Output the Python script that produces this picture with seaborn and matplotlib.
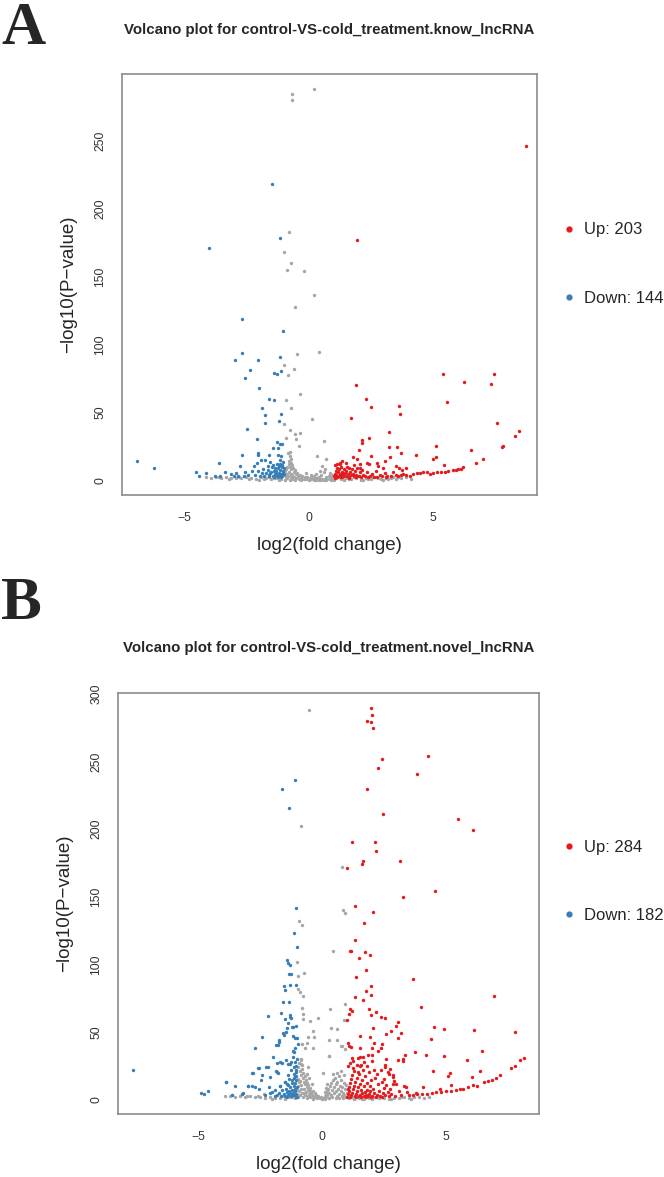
import pandas as pd
import numpy as np
import matplotlib
matplotlib.use("Agg")
import matplotlib.pyplot as plt
from matplotlib.lines import Line2D
import seaborn as sns

# ── Colours (RColorBrewer Set1 + grey, as in the R volcano) ─────────────────
RED = "#E41A1C"
BLUE = "#377EB8"
GREY = "#A6A6A6"

# ── Panel A : known lncRNA ───────────────────────────────────────────────────
a_title = "Volcano plot for control-VS-cold_treatment.know_lncRNA"
a_legend = ["Up: 203", "Down: 144"]

a_up = [
    (8.72, 246), (1.94, 176.5), (5.39, 78.5), (7.45, 77.9), (6.24, 72.5), (7.30, 70.6),
    (1.90, 70), (2.32, 60), (2.50, 53.6), (3.62, 54.6), (3.66, 49), (5.55, 57.3),
    (1.71, 45.8), (7.55, 41.9), (8.45, 36.5), (8.26, 32.6), (3.23, 35.5), (2.43, 30.9),
    (2.14, 29.4), (2.15, 27.2), (2.0, 22.3), (3.22, 24.5), (3.55, 24.2), (5.11, 25.5),
    (7.81, 25.2), (7.77, 24.5), (6.52, 22.3), (3.70, 19.8), (4.30, 18.4), (2.51, 17.6),
    (1.76, 16.9), (1.92, 15.9), (3.27, 16.9), (5.11, 17.4), (4.97, 15.7), (7.0, 15.7),
    (6.70, 13), (5.41, 11.3), (3.07, 14.2), (1.35, 14.2),
    (4.2, 4.9), (4.35, 5.2), (4.46, 5.6), (4.6, 5.9), (4.73, 6.2), (4.85, 5.0), (5.0, 5.4),
    (5.15, 5.8), (5.3, 6.2), (5.45, 5.9), (5.6, 6.8), (5.8, 7.3), (5.9, 7.7), (6.0, 8.1),
    (6.1, 8.6), (6.2, 9.5), (3.9, 4.2), (3.7, 3.8), (3.5, 3.6), (3.3, 3.3),
    (1.26, 11.7), (1.63, 9.3), (1.83, 11.2), (2.06, 12), (2.33, 13), (2.43, 12),
    (2.73, 13), (2.79, 10.7), (2.97, 8.8), (3.50, 10.7), (3.61, 8.8), (3.73, 7.6),
    (3.90, 8.8), (2.06, 8.8),
    (1.02, 3), (1.05, 5), (1.08, 7), (1.1, 4), (1.12, 9), (1.15, 2.5), (1.18, 6), (1.2, 3.5),
    (1.22, 8), (1.25, 5), (1.28, 4), (1.3, 10), (1.32, 2.8), (1.35, 6.5), (1.38, 4.5),
    (1.4, 8.5), (1.42, 3), (1.45, 5.5), (1.5, 7), (1.52, 3.5), (1.55, 9.5), (1.58, 4.8),
    (1.62, 2.6), (1.65, 6), (1.7, 3.8), (1.72, 8), (1.78, 5), (1.82, 3), (1.85, 7),
    (1.9, 4.2), (1.95, 9), (2.0, 3.2), (2.05, 5.8), (2.1, 2.8), (2.15, 7.5), (2.2, 4),
    (2.28, 3), (2.35, 6), (2.45, 3.5), (2.55, 5), (2.62, 2.8), (2.7, 7), (2.85, 4),
    (2.95, 3), (3.05, 5.5), (3.15, 2.9), (3.4, 6), (3.6, 3), (3.8, 5), (4.05, 3.5),
    (1.06, 11), (1.14, 12), (1.26, 13), (1.48, 12.5), (1.04, 2), (1.3, 2.2), (1.6, 2.1),
    (1.88, 2.4), (2.4, 2.2), (2.75, 2.5), (3.1, 2.3),
]

a_down = [
    (-1.46, 218), (-1.16, 178.2), (-4.01, 170.6), (-2.66, 118.4), (-1.03, 109.8),
    (-2.69, 93.4), (-2.97, 88.2), (-2.05, 88.5), (-1.16, 90.7), (-2.37, 81.1), (-2.54, 75),
    (-1.40, 78.7), (-1.28, 78), (-1.11, 80.1), (-1.98, 67.6), (-1.59, 60), (-1.39, 59.3),
    (-1.89, 52.9), (-1.77, 48.3), (-1.10, 48.8), (-1.19, 43.9), (-1.75, 42.2), (-2.46, 37.5),
    (-2.09, 30.6), (-1.27, 28.1), (-1.14, 26.6), (-1.08, 26.8), (-1.42, 23.5), (-1.22, 23.5),
    (-2.02, 19.8), (-2.02, 18.4), (-1.59, 18.4), (-1.22, 18.4), (-1.09, 17.6), (-2.66, 18.4),
    (-1.91, 14.7), (-1.75, 14.9), (-1.55, 13.7), (-3.61, 12.7), (-2.74, 10.5), (-2.21, 10.3),
    (-2.09, 13), (-1.65, 10.5), (-1.14, 14.9), (-6.87, 14), (-6.19, 9.3), (-4.52, 6.1),
    (-4.10, 5.6), (-4.38, 3.1), (-3.76, 3.4), (-3.55, 3.4), (-3.34, 5.9), (-3.11, 4.6),
    (-2.91, 5.6), (-2.82, 3.4), (-2.55, 6.3), (-2.42, 3.6), (-2.29, 7.1), (-2.15, 4.1),
    (-1.89, 5.6), (-1.78, 3.4), (-1.65, 7.6), (-1.55, 5.1), (-1.49, 10), (-1.38, 6.6),
    (-1.30, 3.9), (-1.24, 8.8), (-1.19, 5.6), (-1.14, 7.6), (-1.10, 3.6), (-1.06, 11.3),
    (-1.03, 5.6), (-1.00, 8.8),
    (-1.05, 3.0), (-1.12, 4.5), (-1.18, 3.2), (-1.25, 5.0), (-1.32, 7.2), (-1.36, 4.4),
    (-1.44, 3.3), (-1.5, 6.0), (-1.6, 4.0), (-1.7, 5.3), (-1.02, 6.8), (-1.08, 9.5),
    (-1.15, 11.8), (-1.2, 10.4), (-1.28, 12.2), (-1.35, 9.0), (-1.42, 11.0), (-1.0, 4.5),
    (-1.04, 13.5), (-1.1, 2.6), (-1.22, 2.8), (-1.4, 2.6), (-1.6, 2.9), (-1.84, 8.3),
    (-1.95, 3.1), (-2.05, 6.7), (-2.6, 3.0), (-3.0, 3.1),
]

a_ns = [
    (0.21, 287.5), (-0.66, 283.8), (-0.68, 279.6), (-0.78, 182.6), (-1.0, 167.6),
    (-0.70, 160), (-0.88, 154.4), (-0.18, 153.7), (0.23, 136), (-0.54, 127.2), (-0.48, 92.9),
    (0.43, 94.1), (-0.99, 84.8), (-0.58, 81.6), (-0.82, 77.7), (-0.35, 63.2), (-0.92, 58.8),
    (-0.71, 53.1), (0.12, 45.1), (-0.99, 41.7), (-0.74, 37.3), (-0.55, 33.8), (-0.36, 34.5),
    (-0.52, 30.4), (-0.92, 30.9), (0.62, 28.9), (-0.39, 25.5), (0.35, 17.6), (-0.82, 19.8),
    (-0.74, 21), (0.71, 15.4), (0.52, 10.8),
    (-0.75, 18), (-0.72, 16), (-0.78, 14.5), (-0.7, 13), (-0.8, 12), (-0.68, 11), (-0.74, 10),
    (-0.85, 9.5), (-0.62, 9), (-0.9, 8.5), (-0.7, 8), (-0.55, 7.5), (-0.95, 7), (-0.8, 6.5),
    (-0.6, 6), (-0.45, 5.5), (-0.88, 5), (-0.7, 4.8), (-0.5, 4.5), (-0.35, 4), (-0.98, 4),
    (-0.65, 3.8), (-0.25, 3.5), (-0.82, 3.2), (-0.42, 3), (-0.15, 2.8), (-0.92, 2.6),
    (-0.58, 2.5), (-0.05, 2.3), (-0.72, 2.2), (-0.3, 2), (0.05, 2), (0.15, 1.8), (-0.5, 1.6),
    (0.25, 1.6), (-0.85, 1.5), (0.35, 1.4), (-0.2, 1.3), (0.45, 1.3), (0.55, 1.2),
    (-0.65, 1.1), (0.65, 1.1), (-0.1, 1.0), (0.75, 1.0), (0.85, 0.9), (-0.4, 0.8),
    (0.95, 0.9), (0.1, 0.7), (0.3, 0.6), (-0.95, 0.6), (0.5, 0.5), (0.7, 0.5), (-0.75, 0.4),
    (0.2, 0.3), (0.9, 0.3), (-0.3, 0.2), (0.6, 0.2), (0.4, 0.1), (-0.55, 0.1), (0.0, 0.1),
    (0.3, 5), (0.5, 4), (0.6, 6), (0.2, 3.5), (0.8, 3), (0.4, 2.5), (0.7, 2.2), (0.9, 2.0),
    (0.1, 4.2), (-0.1, 5.5), (0.45, 7), (0.65, 8.5), (0.85, 5.5), (0.95, 4),
    (1.1, 1.5), (1.3, 1.0), (1.5, 2.0), (1.7, 0.8), (1.9, 1.5), (2.1, 0.6), (2.3, 1.8),
    (2.5, 1.0), (2.7, 2.2), (2.9, 0.8), (3.1, 1.4), (3.3, 2.0), (3.5, 1.0), (3.7, 1.6),
    (3.9, 2.2), (4.1, 1.2), (1.2, 2.5), (1.4, 0.4), (1.8, 2.6), (2.2, 0.3), (2.6, 2.8),
    (3.0, 0.5), (3.4, 2.6), (1.0, 0.2), (1.6, 1.3), (2.0, 2.9), (2.4, 0.9), (2.8, 1.5),
    (3.2, 0.9), (3.6, 2.7),
    (-1.1, 1.2), (-1.3, 2.0), (-1.5, 0.8), (-1.7, 1.6), (-1.9, 2.2), (-2.1, 1.0), (-2.3, 1.8),
    (-2.5, 2.4), (-2.7, 1.4), (-2.9, 2.0), (-3.1, 1.6), (-3.3, 2.2), (-3.5, 1.8), (-3.7, 2.4),
    (-3.9, 2.0), (-4.1, 2.2), (-1.2, 0.4), (-1.6, 2.6), (-2.0, 0.6), (-2.4, 1.2), (-2.8, 2.6),
    (-3.2, 1.0), (-3.6, 2.8), (-1.4, 1.5), (-1.8, 0.9),
]

# ── Panel B : novel lncRNA ───────────────────────────────────────────────────
b_title = "Volcano plot for control-VS-cold_treatment.novel_lncRNA"
b_legend = ["Up: 284", "Down: 182"]

b_up = [
    (1.98, 289.6), (2.02, 284.4), (1.80, 280), (1.96, 279.7), (2.07, 275), (4.29, 254.5),
    (2.42, 251.8), (2.27, 245.4), (3.83, 240.7), (1.81, 229.6), (2.47, 211), (5.50, 207.4),
    (6.10, 199.2), (1.22, 190.8), (2.12, 190.6), (2.19, 183.9), (1.67, 176.5), (1.63, 174.6),
    (3.16, 176.5), (1.01, 171.3), (4.56, 154.3), (3.28, 149.9), (1.32, 143.5), (2.06, 139),
    (1.71, 130.6), (1.33, 118), (1.12, 109.9), (1.18, 110.1), (1.75, 109.4), (1.92, 107.2),
    (1.49, 104.4), (1.77, 95.5), (3.68, 89.1), (1.36, 90.4), (1.96, 83.9), (1.77, 79.9),
    (1.98, 77.3), (1.33, 75.8), (1.65, 73.3), (6.95, 76.3), (1.12, 66.9), (1.22, 65.6),
    (1.89, 67.1), (2.18, 64.7), (1.08, 62.9), (1.96, 62.7), (2.39, 61.2), (2.53, 60.5),
    (3.99, 68.1), (1.02, 58.8), (3.08, 57.5), (3.0, 54.3), (2.07, 53), (2.80, 50.8),
    (2.58, 48.1), (3.20, 49.4), (4.52, 53.5), (4.93, 51.8), (6.12, 51.4), (7.77, 49.8),
    (1.53, 47.1), (1.92, 46.1), (3.05, 45.2), (4.41, 44.4), (1.05, 41.5), (1.10, 39.7),
    (2.10, 41.5), (2.02, 38.2), (2.42, 40.8), (2.37, 38.2), (1.17, 38.5), (1.55, 38),
    (2.27, 35.5), (3.76, 34.8), (4.18, 32.8), (4.92, 31.8), (6.47, 35.8), (3.33, 32.6),
    (3.28, 28.1), (1.22, 30.9), (1.46, 30.9), (1.55, 31.6), (1.67, 31.4), (1.87, 32.6),
    (2.0, 33), (1.26, 28.1), (1.13, 26.9), (1.40, 25.2), (1.53, 24.4), (1.69, 27.6),
    (2.0, 28.1), (2.59, 30.1), (2.54, 25.7), (2.54, 24), (3.05, 28.9), (3.27, 29.6),
    (5.83, 29), (8.13, 30.8), (7.98, 29.1), (7.77, 24.9), (7.63, 23.2), (2.37, 21.4),
    (2.65, 20), (2.70, 18.8), (2.74, 22.2), (4.46, 20.7), (5.16, 19.5), (5.07, 17),
    (6.37, 21.2), (6.04, 16.8), (6.87, 14.3), (7.0, 15.5), (7.18, 17.8), (6.52, 12.6),
    (6.69, 13.3), (6.26, 10.1),
    (6.1, 10.4), (5.9, 9.0), (5.7, 8.0), (5.55, 7.5), (5.4, 6.9), (5.2, 6.4), (5.0, 5.9),
    (4.8, 5.4), (4.6, 5.2), (4.45, 4.9), (4.25, 4.2), (4.05, 4.0), (3.85, 3.6), (3.65, 3.3),
    (4.06, 9.4), (5.22, 10.6), (4.74, 7.4), (3.39, 8.9), (3.43, 5.4), (3.0, 11.5),
    (2.9, 13.3), (2.88, 16.2), (2.85, 17.7), (3.78, 4.4),
    (1.02, 2), (1.05, 4), (1.08, 6.5), (1.1, 9), (1.12, 12), (1.15, 15), (1.18, 3), (1.2, 18),
    (1.22, 5), (1.25, 7.5), (1.28, 10), (1.3, 21), (1.32, 2.5), (1.35, 13), (1.38, 4),
    (1.4, 16), (1.42, 6), (1.45, 9), (1.48, 2.2), (1.5, 19), (1.52, 11), (1.55, 3.5),
    (1.58, 7), (1.6, 14), (1.62, 4.5), (1.65, 22), (1.68, 2.5), (1.7, 9.5), (1.72, 5.5),
    (1.75, 17), (1.78, 3), (1.8, 12), (1.82, 7), (1.85, 2.2), (1.88, 20), (1.9, 4),
    (1.92, 10), (1.95, 6), (1.98, 14), (2.0, 2.8), (2.05, 8), (2.1, 4.5), (2.15, 16),
    (2.2, 3), (2.25, 11), (2.3, 6), (2.35, 2.5), (2.4, 13), (2.45, 5), (2.5, 8.5),
    (2.55, 3.2), (2.6, 10.5), (2.65, 5.5), (2.7, 2.6), (2.75, 7.5), (2.8, 4), (2.85, 11),
    (2.95, 2.8), (3.1, 6.5), (3.2, 3.5), (3.3, 9.8), (3.5, 2.9), (1.06, 24.5), (1.24, 23),
    (1.44, 20.5), (1.58, 25.6), (1.8, 24.8), (2.08, 22), (2.22, 19), (2.48, 15.2),
    (1.03, 7.8), (1.14, 1.8), (1.36, 1.6), (1.56, 1.9), (1.76, 1.7), (1.96, 1.9),
    (2.18, 1.6), (2.4, 1.9),
]

b_down = [
    (-1.10, 236.5), (-1.60, 229.6), (-1.34, 216), (-1.03, 141.5), (-1.12, 123), (-1.01, 113),
    (-1.42, 103.2), (-1.37, 101.2), (-1.29, 99.5), (-1.32, 92.8), (-1.25, 92.6), (-1.53, 83.9),
    (-1.48, 81), (-1.03, 84.7), (-1.29, 84.7), (-1.59, 72.3), (-1.34, 72.3), (-1.29, 62.5),
    (-2.16, 61.7), (-1.25, 60), (-1.67, 63.7), (-1.49, 59.2), (-1.28, 61), (-1.22, 53.8),
    (-1.06, 54.5), (-1.42, 52.5), (-1.36, 56.3), (-1.17, 53.3), (-1.59, 48.9), (-1.45, 50.1),
    (-1.52, 47.6), (-2.41, 46.4), (-0.99, 45.2), (-1.16, 46.9), (-1.09, 45.6), (-1.72, 43.9),
    (-1.75, 42.7), (-1.85, 40.2), (-1.79, 40), (-0.98, 40.9), (-1.1, 38), (-1.18, 36),
    (-1.12, 35), (-2.69, 38.3), (-1.96, 31.6), (-1.63, 27.1), (-1.80, 26.6), (-1.68, 27.9),
    (-1.44, 29), (-1.36, 26), (-1.25, 27.5), (-2.19, 23.7), (-2.55, 22.9), (-2.57, 23.4),
    (-2.24, 23.7), (-1.83, 20.5), (-1.85, 21), (-1.76, 19.2), (-2.82, 19.7), (-2.80, 19.7),
    (-2.42, 17.8), (-7.61, 21.7), (-2.10, 16.8), (-2.46, 14.3), (-3.87, 13.1), (-3.88, 12.8),
    (-3.0, 10.1), (-3.51, 9.9), (-2.97, 10.1), (-2.84, 9.6), (-2.69, 9.4), (-2.53, 7.9),
    (-4.61, 6.4), (-4.76, 4.2), (-4.87, 4.4), (-3.21, 4.2), (-3.20, 4.9), (-3.63, 2.9),
    (-2.15, 8.9), (-2.10, 4.4), (-1.9, 6.9), (-1.68, 10.1), (-1.49, 13.1), (-1.36, 10.6),
    (-1.22, 14.3), (-1.07, 17.5), (-1.04, 22),
    (-1.02, 2), (-1.05, 4), (-1.08, 6), (-1.1, 8), (-1.12, 10), (-1.15, 3), (-1.18, 5),
    (-1.2, 12), (-1.22, 7), (-1.25, 2.5), (-1.28, 9), (-1.3, 4.5), (-1.32, 15), (-1.35, 6.5),
    (-1.38, 3), (-1.4, 11), (-1.42, 5.5), (-1.45, 8), (-1.48, 2.5), (-1.5, 13), (-1.55, 4),
    (-1.6, 7), (-1.65, 2.8), (-1.7, 10), (-1.75, 4.5), (-1.8, 3), (-1.04, 14), (-1.06, 17),
    (-1.14, 19), (-1.24, 22), (-1.04, 25), (-1.1, 28), (-1.0, 30), (-1.16, 31.5),
    (-1.03, 20), (-1.08, 12), (-1.14, 16), (-1.2, 3.5), (-1.36, 18), (-1.12, 24), (-1.3, 26),
    (-1.01, 9), (-1.06, 1.5), (-1.4, 1.8), (-1.9, 2.5), (-2.0, 5.5), (-2.3, 3.2),
]

b_ns = [
    (-0.51, 288.4), (-0.86, 202.2), (0.81, 171.8), (0.86, 140.2), (0.94, 137.8),
    (-0.94, 132.3), (-0.81, 129.3), (0.44, 109.6), (-0.99, 101.7), (-0.74, 93.3),
    (-0.98, 91.5), (-0.95, 81.4), (-0.89, 79.7), (-0.78, 76.8), (0.91, 70.8), (0.32, 66.7),
    (-0.82, 67.4), (-0.77, 63.2), (-0.16, 60.5), (-0.75, 59.2), (0.89, 58.8), (-0.47, 58.3),
    (0.36, 53), (-0.35, 50.6), (0.59, 51.8), (-0.32, 46.4), (-0.55, 45.9), (0.28, 43.7),
    (0.59, 43.9), (-0.59, 41.9), (-0.82, 40.9), (0.75, 39.7), (-0.36, 38), (-0.67, 37.8),
    (0.79, 39.5), (0.93, 37), (0.3, 32.3), (0.27, 32), (0.03, 19.5), (-0.86, 30),
    (-0.85, 29), (-0.84, 26), (-0.55, 24),
    (-0.95, 24), (-0.9, 21), (-0.85, 18), (-0.82, 22.5), (-0.78, 16), (-0.75, 19.5),
    (-0.72, 13), (-0.7, 17), (-0.68, 11), (-0.65, 14.5), (-0.62, 9), (-0.6, 12), (-0.58, 7),
    (-0.55, 10.5), (-0.5, 6), (-0.48, 8.5), (-0.45, 4.5), (-0.42, 11.5), (-0.4, 3.5),
    (-0.38, 6.5), (-0.35, 2.5), (-0.3, 5), (-0.28, 1.8), (-0.25, 3.5), (-0.2, 1.2),
    (-0.15, 2.5), (-0.1, 0.8), (-0.05, 1.5), (0.0, 0.5), (-0.98, 15), (-0.96, 10), (-0.93, 6),
    (-0.92, 12.5), (-0.88, 3), (-0.86, 8), (-0.8, 5), (-0.77, 2), (-0.73, 7.5), (-0.67, 3.5),
    (-0.63, 5.5), (-0.57, 2.2), (-0.53, 4), (-0.47, 1.5), (-0.44, 2.8), (-0.98, 3.5),
    (-0.99, 7), (-0.95, 1.5), (-0.87, 13.5), (-0.83, 10.5), (-0.71, 4.5), (-0.6, 1.2),
    (-0.35, 0.6), (-0.52, 16), (-0.62, 19), (-0.92, 27), (-0.8, 25.5),
    (0.05, 1.2), (0.1, 2.5), (0.12, 0.6), (0.15, 4), (0.18, 1.8), (0.2, 6), (0.22, 3),
    (0.25, 8), (0.28, 1.2), (0.3, 5), (0.32, 10), (0.35, 3.5), (0.38, 12), (0.4, 7),
    (0.42, 2), (0.45, 14), (0.48, 9), (0.5, 4.5), (0.52, 16), (0.55, 11), (0.58, 6),
    (0.6, 13), (0.62, 2.5), (0.65, 8), (0.68, 17), (0.7, 4), (0.72, 10), (0.75, 6.5),
    (0.78, 14), (0.8, 2.2), (0.82, 9), (0.85, 5), (0.88, 12), (0.9, 3), (0.92, 7.5),
    (0.95, 1.5), (0.97, 10.5), (0.99, 4.5), (0.3, 1.0), (0.55, 0.8), (0.7, 1.3), (0.85, 0.7),
    (0.45, 18.5), (0.6, 19.8), (0.75, 21), (0.9, 18), (0.2, 11), (0.15, 8.5), (0.1, 5.5),
    (1.1, 1.0), (1.3, 0.6), (1.5, 1.2), (1.7, 0.5), (1.9, 0.9), (2.1, 1.4), (2.3, 0.7),
    (2.5, 1.1), (2.7, 0.6), (2.9, 1.3), (3.1, 0.8), (3.3, 1.5), (3.5, 0.9), (3.7, 1.6),
    (3.9, 2.0), (4.1, 1.2), (4.3, 1.8), (1.2, 1.5), (1.6, 0.3), (2.0, 0.4), (2.4, 1.6),
    (2.8, 0.3), (3.2, 1.8), (3.6, 0.4),
    (-1.1, 0.8), (-1.3, 1.4), (-1.5, 0.6), (-1.7, 1.2), (-1.9, 0.9), (-2.1, 1.6), (-2.3, 0.8),
    (-2.5, 1.8), (-2.7, 1.4), (-2.9, 2.2), (-3.1, 1.6), (-3.3, 2.4), (-3.5, 2.0), (-3.7, 2.6),
    (-3.9, 2.7), (-3.24, 4.2), (-2.33, 3.9), (-1.2, 1.8), (-1.6, 2.2), (-2.0, 0.5),
    (-2.6, 2.6), (-3.04, 2.4), (-3.62, 2.9),
]


def to_df(pairs):
    return pd.DataFrame(pairs, columns=["log2fc", "nlogp"])


def draw_panel(fig, rect, ns, down, up, xlim, ylim, yticks, title, title_y,
               legend_labels, legend_y, letter, letter_y):
    ax = fig.add_axes(rect)
    for pts, col in [(ns, GREY), (down, BLUE), (up, RED)]:
        sns.scatterplot(data=to_df(pts), x="log2fc", y="nlogp", color=col,
                        s=6, linewidth=0, ax=ax, legend=False)
    ax.set_xlim(*xlim)
    ax.set_ylim(*ylim)
    ax.set_xticks([-5, 0, 5])
    ax.set_yticks(yticks)
    ax.set_xticklabels(["\u22125", "0", "5"])
    for sp in ax.spines.values():
        sp.set_visible(True)
        sp.set_color("#8c8c8c")
        sp.set_linewidth(1.2)
    ax.tick_params(axis="both", direction="out", length=5, width=1, color="#8c8c8c",
                   labelsize=8.8, labelcolor="#333333")
    ax.tick_params(axis="x", pad=7)
    ax.tick_params(axis="y", pad=6)
    for t in ax.get_yticklabels():
        t.set_rotation(90)
        t.set_va("center")
    ax.set_xlabel("log2(fold change)", fontsize=13.5)
    ax.set_ylabel("\u2212log10(P\u2212value)", fontsize=13.5)
    ax.xaxis.set_label_coords(0.5, -0.1)
    ax.yaxis.set_label_coords(-0.107, 0.5)

    cx = rect[0] + rect[2] / 2
    fig.text(cx, title_y, title, ha="center", va="center", fontsize=10.8, fontweight="bold")
    fig.text(0.002, letter_y, letter, ha="left", va="top", fontsize=44,
             fontweight="bold", family=["Liberation Serif", "DejaVu Serif"])

    handles = [Line2D([], [], ls="", marker="o", markersize=4.5, color=RED, markeredgewidth=0),
               Line2D([], [], ls="", marker="o", markersize=4.5, color=BLUE, markeredgewidth=0)]
    ax.legend(handles, legend_labels, loc="center left", bbox_to_anchor=(0.852, legend_y),
              bbox_transform=fig.transFigure, frameon=False, fontsize=12,
              handlelength=0.4, handletextpad=0.7, labelspacing=3.2,
              borderpad=0, borderaxespad=0)
    return ax


sns.set_style("white")
plt.rcParams["font.family"] = ["Liberation Sans", "DejaVu Sans"]

fig = plt.figure(figsize=(6.64, 11.77), dpi=100)

draw_panel(fig, [0.1833, 0.5794, 0.6254, 0.3577], a_ns, a_down, a_up,
           (-7.50, 9.16), (-10.8, 298.8), [0, 50, 100, 150, 200, 250],
           a_title, 0.9745, a_legend, 0.7757, "A", 0.999)
draw_panel(fig, [0.1773, 0.0535, 0.6344, 0.3575], b_ns, b_down, b_up,
           (-8.24, 8.75), (-10.9, 300.7), [0, 50, 100, 150, 200, 250, 300],
           b_title, 0.4494, b_legend, 0.2511, "B", 0.5105)

fig.savefig("out.png", dpi=100)
